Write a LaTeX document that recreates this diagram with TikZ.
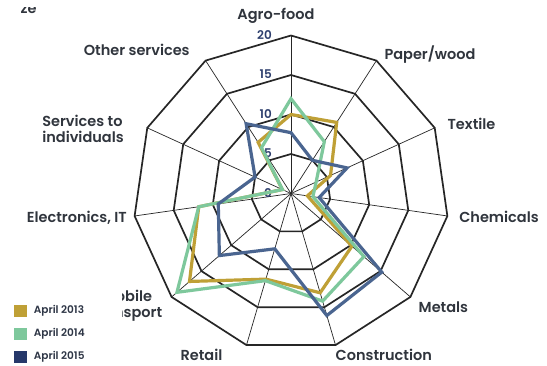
\documentclass[tikz,border=0pt]{standalone}
\usepackage{fontspec}
\setmainfont{Poppins}
\newfontfamily\labelfont{Poppins SemiBold}
\usetikzlibrary{positioning}
\definecolor{gold}{HTML}{BFA036}
\definecolor{mint}{HTML}{7EC89C}
\definecolor{slate}{HTML}{4A6590}
\definecolor{navy}{HTML}{26386A}
\definecolor{ticknavy}{HTML}{2E3F6E}
\definecolor{labelgrey}{HTML}{30353D}

\tikzset{
    ring/.style={line width=1.7pt, black!85, line join=miter},
    spoke/.style={line width=0.7pt, black!85},
    series/.style={line width=3.2pt, line join=miter},
    axislabel/.style={font=\labelfont\fontsize{14.5}{16}\selectfont, text=labelgrey, inner sep=0pt},
    ticklabel/.style={font=\labelfont\fontsize{12}{13}\selectfont, text=ticknavy, inner sep=0pt, anchor=east},
    keybox/.style={minimum size=12.5pt, inner sep=0pt},
    keytext/.style={font=\labelfont\fontsize{10.5}{12}\selectfont, text=labelgrey!80!navy, inner sep=0pt}
}

\begin{document}
\begin{tikzpicture}[x=1pt, y=1pt]
    \useasboundingbox (0,0) rectangle (547,365);
    \clip (0,0) rectangle (547,365);
    \fill[white] (0,0) rectangle (547,365);

    \node[axislabel, anchor=base west] (frag) at (20.5,351.7) {ze};
    \fill[white] (0,358.3) rectangle (60,365);

    \begin{scope}[shift={(291,171.5)}]
        \foreach \i in {0,...,10}
            \coordinate (ax\i) at ({90-\i*360/11}:158);
        \foreach \i in {0,...,10}
            \draw[spoke] (0,0) -- (ax\i);
        \foreach \r in {1,2,3,4}
            \draw[ring] (90:\r*39.5) \foreach \i in {1,...,10}{ -- ({90-\i*360/11}:\r*39.5)} -- cycle;

        \foreach \t [count=\r from 0] in {0,5,10,15,20}
            \node[ticklabel] (tick\t) at (-19,\r*39.5+0.5) {\t};

        \foreach \v [count=\i from 0] in {10,10.7,5.5,2.1,10.2,13.1,11.3,17,11.8,1.2,7.7}
            \coordinate (a\i) at ({90-\i*360/11}:\v*7.9);
        \foreach \v [count=\i from 0] in {12,7.8,3.5,2.8,12.2,14.2,11.5,19.1,11.8,1.2,6.9}
            \coordinate (b\i) at ({90-\i*360/11}:\v*7.9);
        \foreach \v [count=\i from 0] in {7.7,5,7.8,3.6,15.2,16.1,7.3,12,9.3,5,10.5}
            \coordinate (c\i) at ({90-\i*360/11}:\v*7.9);

        \draw[series, gold] (a0) \foreach \i in {1,...,10}{ -- (a\i)} -- cycle;
        \draw[series, mint] (b0) \foreach \i in {1,...,10}{ -- (b\i)} -- cycle;
        \draw[series, slate] (c0) \foreach \i in {1,...,10}{ -- (c\i)} -- cycle;
    \end{scope}

    \node[axislabel] (agro) at (276,349) {Agro-food};
    \node[axislabel] (paper) at (430,310) {Paper/wood};
    \node[axislabel] (textile) at (471.5,240.7) {Textile};
    \node[axislabel] (chem) at (499,147.7) {Chemicals};
    \node[axislabel] (metals) at (443.4,57.7) {Metals};
    \node[axislabel] (constr) at (383.8,10) {Construction};
    \node[axislabel] (retail) at (201.5,10) {Retail};
    \node[axislabel, align=center] (mobile) at (127.5,59) {Mobile\\transport};
    \node[axislabel, anchor=east] (elec) at (127,147.7) {Electronics, IT};
    \node[axislabel, align=left] (indiv) at (83,236.5) {Services to\\individuals};
    \node[axislabel] (other) at (136.7,315) {Other services};

    \fill[white] (0,0) rectangle (122,81);

    \node[keybox, fill=gold] (k13) at (20.3,54) {};
    \node[keybox, fill=mint, below=10.1pt of k13] (k14) {};
    \node[keybox, fill=navy, below=10.1pt of k14] (k15) {};
    \node[keytext, right=7pt of k13] (t13) {April 2013};
    \node[keytext, right=7pt of k14] (t14) {April 2014};
    \node[keytext, right=7pt of k15] (t15) {April 2015};
\end{tikzpicture}
\end{document}
